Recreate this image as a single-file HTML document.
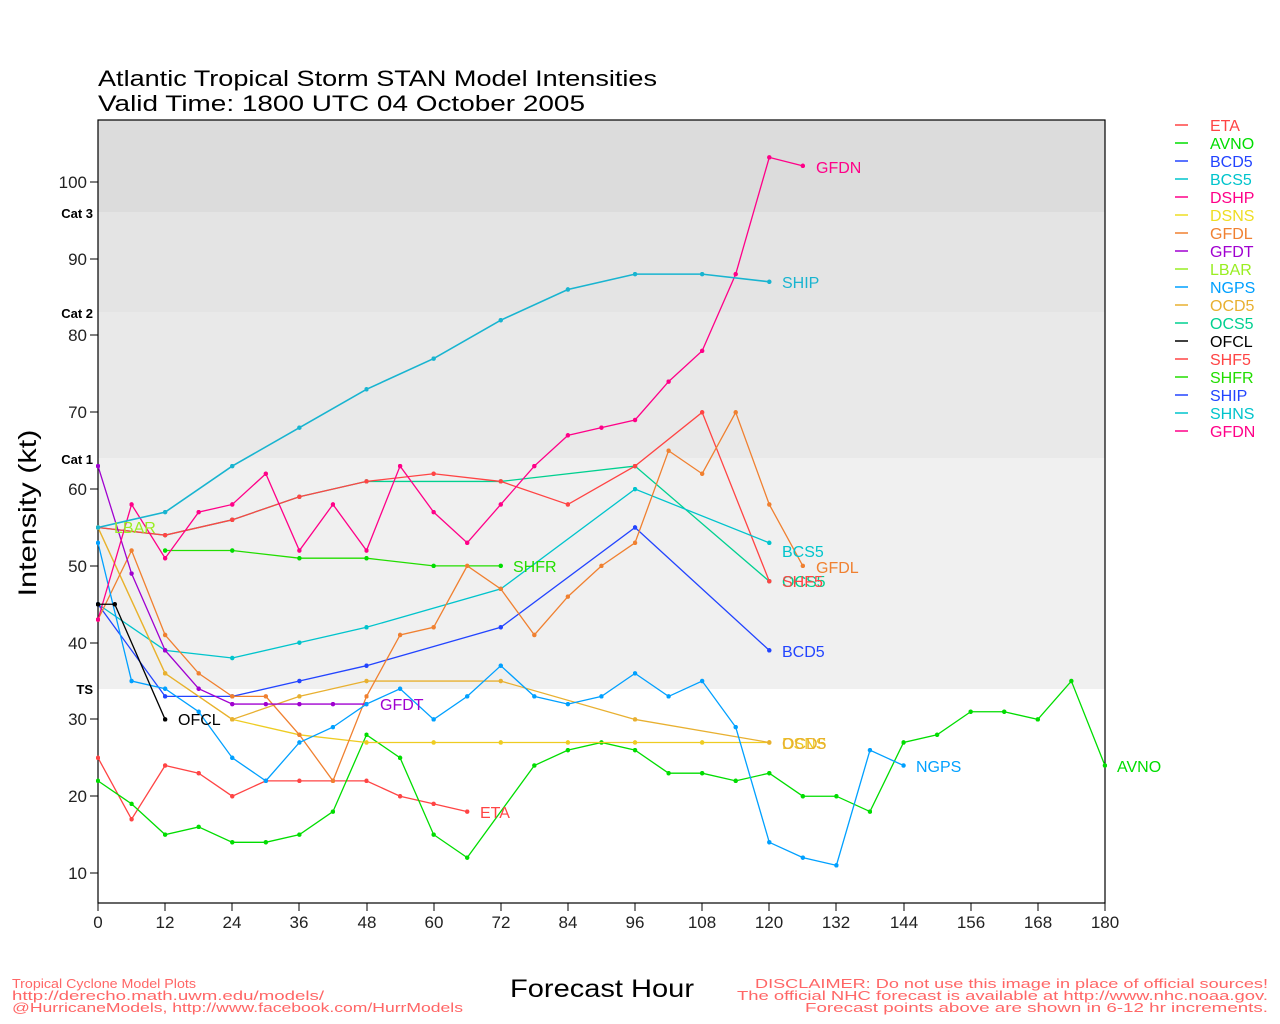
<!DOCTYPE html>
<html><head><meta charset="utf-8"><style>
body{margin:0;background:#fff;}
svg{display:block;font-family:"Liberation Sans",sans-serif;}
</style></head><body>
<svg width="1280" height="1024" viewBox="0 0 1280 1024" xmlns="http://www.w3.org/2000/svg">
<defs>
<marker id="m1" viewBox="0 0 10 10" refX="5" refY="5" markerWidth="0.8" markerHeight="0.6" markerUnits="userSpaceOnUse" preserveAspectRatio="none"><circle cx="5" cy="5" r="5" fill="#ff4444"/></marker>
<marker id="m2" viewBox="0 0 10 10" refX="5" refY="5" markerWidth="0.8" markerHeight="0.6" markerUnits="userSpaceOnUse" preserveAspectRatio="none"><circle cx="5" cy="5" r="5" fill="#00dd00"/></marker>
<marker id="m3" viewBox="0 0 10 10" refX="5" refY="5" markerWidth="0.8" markerHeight="0.6" markerUnits="userSpaceOnUse" preserveAspectRatio="none"><circle cx="5" cy="5" r="5" fill="#2244ff"/></marker>
<marker id="m4" viewBox="0 0 10 10" refX="5" refY="5" markerWidth="0.8" markerHeight="0.6" markerUnits="userSpaceOnUse" preserveAspectRatio="none"><circle cx="5" cy="5" r="5" fill="#00c4cc"/></marker>
<marker id="m5" viewBox="0 0 10 10" refX="5" refY="5" markerWidth="0.8" markerHeight="0.6" markerUnits="userSpaceOnUse" preserveAspectRatio="none"><circle cx="5" cy="5" r="5" fill="#ff0088"/></marker>
<marker id="m6" viewBox="0 0 10 10" refX="5" refY="5" markerWidth="0.8" markerHeight="0.6" markerUnits="userSpaceOnUse" preserveAspectRatio="none"><circle cx="5" cy="5" r="5" fill="#eecc22"/></marker>
<marker id="m7" viewBox="0 0 10 10" refX="5" refY="5" markerWidth="0.8" markerHeight="0.6" markerUnits="userSpaceOnUse" preserveAspectRatio="none"><circle cx="5" cy="5" r="5" fill="#f08030"/></marker>
<marker id="m8" viewBox="0 0 10 10" refX="5" refY="5" markerWidth="0.8" markerHeight="0.6" markerUnits="userSpaceOnUse" preserveAspectRatio="none"><circle cx="5" cy="5" r="5" fill="#a000d0"/></marker>
<marker id="m9" viewBox="0 0 10 10" refX="5" refY="5" markerWidth="0.8" markerHeight="0.6" markerUnits="userSpaceOnUse" preserveAspectRatio="none"><circle cx="5" cy="5" r="5" fill="#00a0ff"/></marker>
<marker id="m10" viewBox="0 0 10 10" refX="5" refY="5" markerWidth="0.8" markerHeight="0.6" markerUnits="userSpaceOnUse" preserveAspectRatio="none"><circle cx="5" cy="5" r="5" fill="#e8b030"/></marker>
<marker id="m11" viewBox="0 0 10 10" refX="5" refY="5" markerWidth="0.8" markerHeight="0.6" markerUnits="userSpaceOnUse" preserveAspectRatio="none"><circle cx="5" cy="5" r="5" fill="#00d090"/></marker>
<marker id="m12" viewBox="0 0 10 10" refX="5" refY="5" markerWidth="0.8" markerHeight="0.6" markerUnits="userSpaceOnUse" preserveAspectRatio="none"><circle cx="5" cy="5" r="5" fill="#000"/></marker>
<marker id="m13" viewBox="0 0 10 10" refX="5" refY="5" markerWidth="0.8" markerHeight="0.6" markerUnits="userSpaceOnUse" preserveAspectRatio="none"><circle cx="5" cy="5" r="5" fill="#18b4d0"/></marker>
</defs>
<rect x="98" y="120" width="1007" height="93" fill="#dcdcdc"/>
<rect x="98" y="212" width="1007" height="101" fill="#e4e4e4"/>
<rect x="98" y="312" width="1007" height="147" fill="#e9e9e9"/>
<rect x="98" y="458" width="1007" height="231" fill="#f0f0f0"/>
<rect x="98" y="120" width="1007" height="783" fill="none" stroke="#000" stroke-width="1.2"/>
<text x="98" y="86" font-size="22" textLength="559" lengthAdjust="spacingAndGlyphs">Atlantic Tropical Storm STAN Model Intensities</text>
<text x="98" y="111" font-size="22" textLength="487" lengthAdjust="spacingAndGlyphs">Valid Time: 1800 UTC 04 October 2005</text>
<g font-size="13" font-weight="bold" text-anchor="end">
<text x="93" y="218">Cat 3</text><text x="93" y="318">Cat 2</text><text x="93" y="464">Cat 1</text><text x="93" y="694">TS</text>
</g>
<g stroke="#000" stroke-width="1">
<path d="M90 182H98M90 259H98M90 335H98M90 412H98M90 489H98M90 566H98M90 643H98M90 719H98M90 796H98M90 873H98"/>
<path d="M98 903v8M165 903v8M232 903v8M299 903v8M367 903v8M434 903v8M501 903v8M568 903v8M635 903v8M702 903v8M769 903v8M836 903v8M904 903v8M971 903v8M1038 903v8M1105 903v8"/>
</g>
<g font-size="17" text-anchor="end" fill="#222">
<text x="87" y="188">100</text><text x="87" y="265">90</text><text x="87" y="341">80</text><text x="87" y="418">70</text><text x="87" y="495">60</text><text x="87" y="572">50</text><text x="87" y="649">40</text><text x="87" y="725">30</text><text x="87" y="802">20</text><text x="87" y="879">10</text>
</g>
<g font-size="17" text-anchor="middle" fill="#222">
<text x="98" y="928">0</text><text x="165" y="928">12</text><text x="232" y="928">24</text><text x="299" y="928">36</text><text x="367" y="928">48</text><text x="434" y="928">60</text><text x="501" y="928">72</text><text x="568" y="928">84</text><text x="635" y="928">96</text><text x="702" y="928">108</text><text x="769" y="928">120</text><text x="836" y="928">132</text><text x="904" y="928">144</text><text x="971" y="928">156</text><text x="1038" y="928">168</text><text x="1105" y="928">180</text>
</g>
<text x="36" y="513" font-size="25" text-anchor="middle" transform="rotate(-90 36 513)" textLength="167" lengthAdjust="spacingAndGlyphs">Intensity (kt)</text>
<text x="602" y="997" font-size="25" text-anchor="middle" textLength="184" lengthAdjust="spacingAndGlyphs">Forecast Hour</text>

<g transform="matrix(5.594 0 0 -7.678 98 949.78)" fill="none" stroke-width="1.3">
<polyline vector-effect="non-scaling-stroke" stroke="#ff4444" marker-start="url(#m1)" marker-mid="url(#m1)" marker-end="url(#m1)" points="0,25 6,17 12,24 18,23 24,20 30,22 36,22 42,22 48,22 54,20 60,19 66,18"/>
<polyline vector-effect="non-scaling-stroke" stroke="#00dd00" marker-start="url(#m2)" marker-mid="url(#m2)" marker-end="url(#m2)" points="0,22 6,19 12,15 18,16 24,14 30,14 36,15 42,18 48,28 54,25 60,15 66,12 78,24 84,26 90,27 96,26 102,23 108,23 114,22 120,23 126,20 132,20 138,18 144,27 150,28 156,31 162,31 168,30 174,35 180,24"/>
<polyline vector-effect="non-scaling-stroke" stroke="#00d090" marker-start="url(#m11)" marker-mid="url(#m11)" marker-end="url(#m11)" points="0,55 12,54 24,56 36,59 48,61 72,61 96,63 120,48"/>
<polyline vector-effect="non-scaling-stroke" stroke="#ff4444" marker-start="url(#m1)" marker-mid="url(#m1)" marker-end="url(#m1)" points="0,55 12,54 24,56 36,59 48,61 60,62 72,61 84,58 96,63 108,70 120,48"/>
<polyline vector-effect="non-scaling-stroke" stroke="#22dd00" marker-start="url(#m2)" marker-mid="url(#m2)" marker-end="url(#m2)" points="12,52 24,52 36,51 48,51 60,50 72,50"/>
<polyline vector-effect="non-scaling-stroke" stroke="#00c4cc" marker-start="url(#m4)" marker-mid="url(#m4)" marker-end="url(#m4)" points="0,45 12,39 24,38 36,40 48,42 72,47 96,60 120,53"/>
<polyline vector-effect="non-scaling-stroke" stroke="#2244ff" marker-start="url(#m3)" marker-mid="url(#m3)" marker-end="url(#m3)" points="0,45 12,33 24,33 36,35 48,37 72,42 96,55 120,39"/>
<polyline vector-effect="non-scaling-stroke" stroke="#eecc22" marker-start="url(#m6)" marker-mid="url(#m6)" marker-end="url(#m6)" points="0,55 12,36 24,30 36,28 48,27 60,27 72,27 84,27 96,27 108,27 120,27"/>
<polyline vector-effect="non-scaling-stroke" stroke="#e8b030" marker-start="url(#m10)" marker-mid="url(#m10)" marker-end="url(#m10)" points="0,55 12,36 24,30 36,33 48,35 72,35 96,30 120,27"/>
<polyline vector-effect="non-scaling-stroke" stroke="#f08030" marker-start="url(#m7)" marker-mid="url(#m7)" marker-end="url(#m7)" points="0,43 6,52 12,41 18,36 24,33 30,33 36,28 42,22 48,33 54,41 60,42 66,50 72,47 78,41 84,46 90,50 96,53 102,65 108,62 114,70 120,58 126,50"/>
<polyline vector-effect="non-scaling-stroke" stroke="#a000d0" marker-start="url(#m8)" marker-mid="url(#m8)" marker-end="url(#m8)" points="0,63 6,49 12,39 18,34 24,32 30,32 36,32 42,32 48,32"/>
<polyline vector-effect="non-scaling-stroke" stroke="#00a0ff" marker-start="url(#m9)" marker-mid="url(#m9)" marker-end="url(#m9)" points="0,53 6,35 12,34 18,31 24,25 30,22 36,27 42,29 48,32 54,34 60,30 66,33 72,37 78,33 84,32 90,33 96,36 102,33 108,35 114,29 120,14 126,12 132,11 138,26 144,24"/>
<polyline vector-effect="non-scaling-stroke" stroke="#ff0088" marker-start="url(#m5)" marker-mid="url(#m5)" marker-end="url(#m5)" points="0,43 6,58 12,51 18,57 24,58 30,62 36,52 42,58 48,52 54,63 60,57 66,53 72,58 78,63 84,67 90,68 96,69 102,74 108,78 114,88 120,103.2 126,102.1"/>
<polyline vector-effect="non-scaling-stroke" stroke="#18b4d0" stroke-width="1.6" marker-start="url(#m13)" marker-mid="url(#m13)" marker-end="url(#m13)" points="0,55 12,57 24,63 36,68 48,73 60,77 72,82 84,86 96,88 108,88 120,87"/>
<polyline vector-effect="non-scaling-stroke" stroke="#000" marker-start="url(#m12)" marker-mid="url(#m12)" marker-end="url(#m12)" points="0,45 3,45 12,30"/>
</g>

<g font-size="16">
<text x="114" y="533" fill="#99ee22">LBAR</text>
<text x="178" y="725" fill="#000">OFCL</text>
<text x="380" y="710" fill="#a000d0">GFDT</text>
<text x="480" y="818" fill="#ff4444">ETA</text>
<text x="513" y="572" fill="#22dd00">SHFR</text>
<text x="782" y="557" fill="#00c4cc">BCS5</text>
<text x="782" y="587" fill="#00d090">OCS5</text>
<text x="782" y="587" fill="#ff4444">SHF5</text>
<text x="816" y="573" fill="#f08030">GFDL</text>
<text x="782" y="657" fill="#2244ff">BCD5</text>
<text x="782" y="749" fill="#eecc22">DSNS</text>
<text x="782" y="749" fill="#e8b030">OCD5</text>
<text x="782" y="288" fill="#18b4d0">SHIP</text>
<text x="816" y="173" fill="#ff0088">GFDN</text>
<text x="916" y="772" fill="#00a0ff">NGPS</text>
<text x="1117" y="772" fill="#00dd00">AVNO</text>
</g>

<g font-size="16">
<g stroke-width="1.5">
<line x1="1175" x2="1188" y1="125" y2="125" stroke="#ff4444"/>
<line x1="1175" x2="1188" y1="143" y2="143" stroke="#00dd00"/>
<line x1="1175" x2="1188" y1="161" y2="161" stroke="#2244ff"/>
<line x1="1175" x2="1188" y1="179" y2="179" stroke="#00c4cc"/>
<line x1="1175" x2="1188" y1="197" y2="197" stroke="#ff0088"/>
<line x1="1175" x2="1188" y1="215" y2="215" stroke="#eedd22"/>
<line x1="1175" x2="1188" y1="233" y2="233" stroke="#f08030"/>
<line x1="1175" x2="1188" y1="251" y2="251" stroke="#a000d0"/>
<line x1="1175" x2="1188" y1="269" y2="269" stroke="#99ee22"/>
<line x1="1175" x2="1188" y1="287" y2="287" stroke="#00a0ff"/>
<line x1="1175" x2="1188" y1="305" y2="305" stroke="#e8b030"/>
<line x1="1175" x2="1188" y1="323" y2="323" stroke="#00d090"/>
<line x1="1175" x2="1188" y1="341" y2="341" stroke="#000"/>
<line x1="1175" x2="1188" y1="359" y2="359" stroke="#ff4444"/>
<line x1="1175" x2="1188" y1="377" y2="377" stroke="#22dd00"/>
<line x1="1175" x2="1188" y1="395" y2="395" stroke="#2244ff"/>
<line x1="1175" x2="1188" y1="413" y2="413" stroke="#00c4cc"/>
<line x1="1175" x2="1188" y1="431" y2="431" stroke="#ff0088"/>
</g>
<text x="1210" y="131" fill="#ff4444">ETA</text>
<text x="1210" y="149" fill="#00dd00">AVNO</text>
<text x="1210" y="167" fill="#2244ff">BCD5</text>
<text x="1210" y="185" fill="#00c4cc">BCS5</text>
<text x="1210" y="203" fill="#ff0088">DSHP</text>
<text x="1210" y="221" fill="#eedd22">DSNS</text>
<text x="1210" y="239" fill="#f08030">GFDL</text>
<text x="1210" y="257" fill="#a000d0">GFDT</text>
<text x="1210" y="275" fill="#99ee22">LBAR</text>
<text x="1210" y="293" fill="#00a0ff">NGPS</text>
<text x="1210" y="311" fill="#e8b030">OCD5</text>
<text x="1210" y="329" fill="#00d090">OCS5</text>
<text x="1210" y="347" fill="#000">OFCL</text>
<text x="1210" y="365" fill="#ff4444">SHF5</text>
<text x="1210" y="383" fill="#22dd00">SHFR</text>
<text x="1210" y="401" fill="#2244ff">SHIP</text>
<text x="1210" y="419" fill="#00c4cc">SHNS</text>
<text x="1210" y="437" fill="#ff0088">GFDN</text>
</g>

<g font-size="12.5" fill="#ff6666">
<text x="12" y="988" textLength="184" lengthAdjust="spacingAndGlyphs">Tropical Cyclone Model Plots</text>
<text x="12" y="1000" textLength="312" lengthAdjust="spacingAndGlyphs">http://derecho.math.uwm.edu/models/</text>
<text x="12" y="1012" textLength="451" lengthAdjust="spacingAndGlyphs">@HurricaneModels, http://www.facebook.com/HurrModels</text>
<text x="755" y="988" textLength="513" lengthAdjust="spacingAndGlyphs">DISCLAIMER: Do not use this image in place of official sources!</text>
<text x="737" y="1000" textLength="531" lengthAdjust="spacingAndGlyphs">The official NHC forecast is available at http://www.nhc.noaa.gov.</text>
<text x="805" y="1012" textLength="463" lengthAdjust="spacingAndGlyphs">Forecast points above are shown in 6-12 hr increments.</text>
</g>
</svg>
</body></html>
